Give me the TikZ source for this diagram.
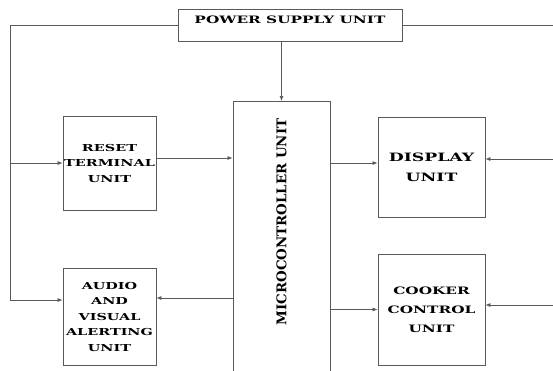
\documentclass[tikz,border=0pt]{standalone}
\usepackage{fontspec}
\newfontfamily\blockfont{DejaVu Serif}[FakeStretch=1.5]
\newfontfamily\mcufont{DejaVu Serif}
\usetikzlibrary{arrows.meta, positioning, calc}

\begin{document}
\begin{tikzpicture}[
    x=1pt, y=-1pt,
    block/.style={rectangle, draw=black!65, line width=0.8pt, align=center, inner sep=0pt, font=\blockfont\bfseries\fontsize{9.6}{15.5}\selectfont},
    link/.style={draw=black!65, line width=0.7pt},
    arrow/.style={link, -{Latex[length=5pt, width=4pt]}}
]
\clip (0,0) rectangle (553,370);
\node[block, minimum width=224pt, minimum height=32pt, text depth=10pt, font=\blockfont\bfseries\fontsize{10.2}{13}\selectfont] (psu) at (290,25) {POWER SUPPLY UNIT};
\node[block, minimum width=97pt, minimum height=300pt, anchor=north] (mcu) at (281.5,101) {};
\node[rotate=90, font=\mcufont\bfseries\fontsize{13.4}{14}\selectfont] (mcutext) at (281.5,222) {MICROCONTROLLER UNIT};
\node[block, minimum width=93pt, minimum height=94pt] (reset) at (109.5,163) {RESET\\TERMINAL\\UNIT};
\node[block, minimum width=93pt, minimum height=97pt] (audio) at (109.5,316.5) {AUDIO\\AND\\VISUAL\\ALERTING\\UNIT};
\node[block, minimum width=107pt, minimum height=100pt, font=\blockfont\bfseries\fontsize{11.5}{20}\selectfont] (display) at (431.5,167) {DISPLAY\\UNIT};
\node[block, minimum width=107pt, minimum height=111pt, font=\blockfont\bfseries\fontsize{10.2}{19}\selectfont] (cooker) at (431.5,309.5) {COOKER\\CONTROL\\UNIT};
% supply lines
\coordinate (lbus) at (10,300);
\coordinate (rbus) at (558,305);
\draw[arrow] (psu.south -| mcu.north) -- (mcu.north);
\draw[arrow] (psu.west) -| (lbus) -- (audio.west |- lbus);
\draw[arrow] (lbus |- reset) -- (reset);
\draw[link] (psu.east) -| (rbus);
\coordinate (d2) at ([yshift=8pt]display.east);
\coordinate (c2) at ([yshift=4.5pt]cooker.east);
\draw[arrow] (d2 -| rbus) -- (d2);
\draw[arrow] (c2 -| rbus) -- (c2);
% signal lines
\coordinate (r1) at ([yshift=5pt]reset.east);
\coordinate (a1) at ([yshift=18.5pt]audio.east);
\coordinate (d1) at ([yshift=4pt]display.west);
\draw[arrow] (r1) -- (r1 -| mcu.west);
\draw[arrow] (mcu.west |- a1) -- (a1);
\draw[arrow] (mcu.east |- d1) -- (d1);
\draw[arrow] (mcu.east |- cooker) -- (cooker);
\end{tikzpicture}
\end{document}
